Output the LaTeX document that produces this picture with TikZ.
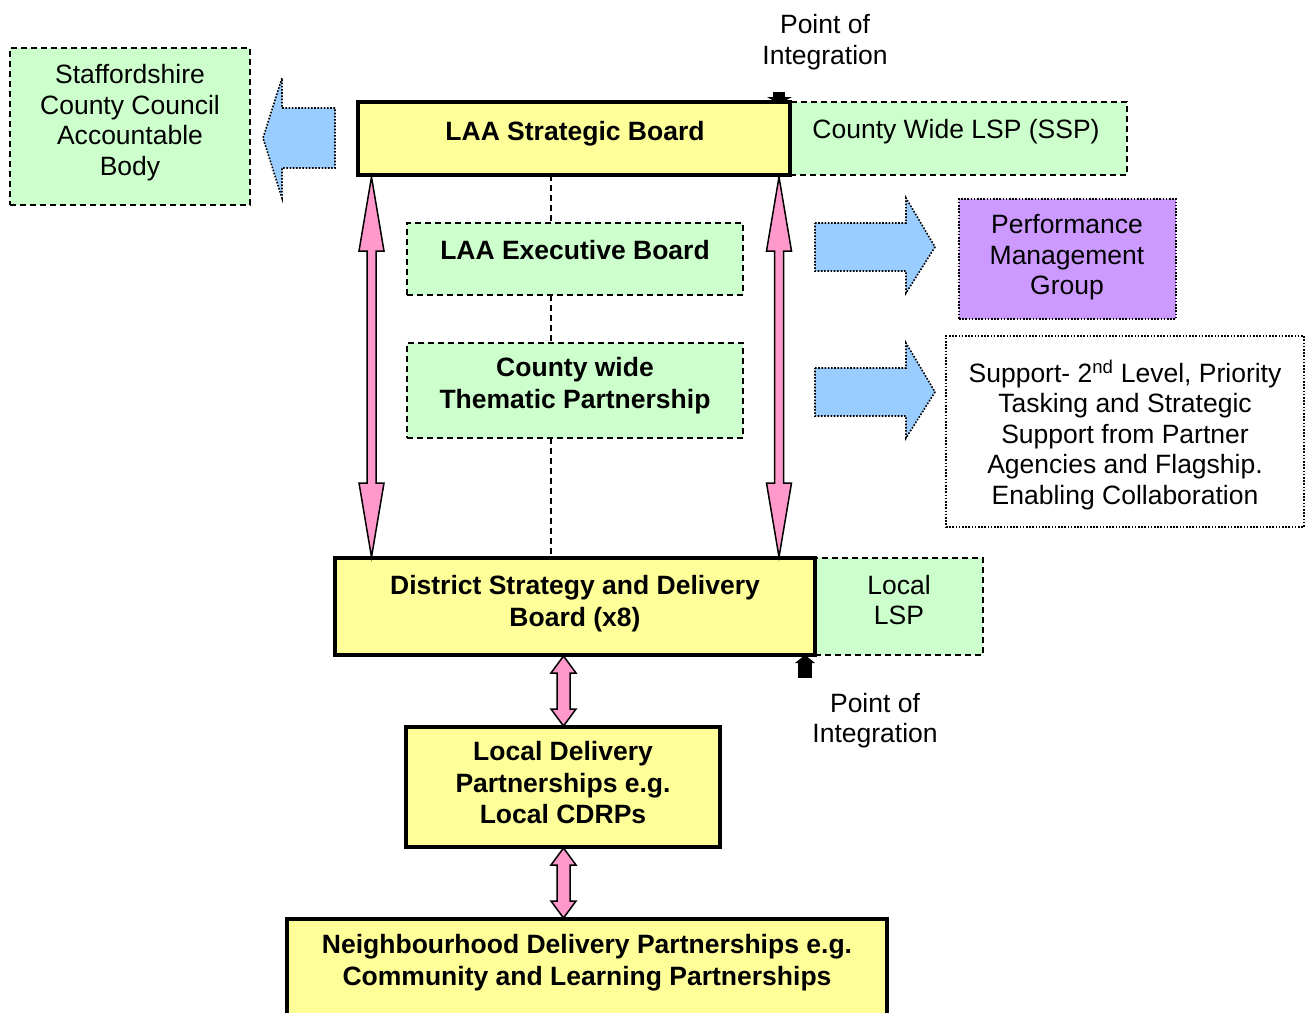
\documentclass[tikz,border=0pt]{standalone}
\usepackage{fontspec}
\setmainfont{Liberation Sans}
\usetikzlibrary{calc}
\definecolor{yel}{HTML}{FFFF99}
\definecolor{grn}{HTML}{CCFFCC}
\definecolor{blu}{HTML}{99CCFF}
\definecolor{pnk}{HTML}{FF99CC}
\definecolor{prp}{HTML}{CC99FF}
\tikzset{
  txt/.style={font=\fontsize{26.5}{30.5}\selectfont, align=center, inner sep=0pt,
    execute at begin node=\strut, execute at end node=\strut},
  btxt/.style={txt, font=\fontsize{26.5}{31.5}\selectfont\bfseries},
  boxbase/.style={rectangle, inner sep=0pt, outer sep=0pt, anchor=north west},
  yelbox/.style={boxbase, draw, line width=3.5pt, fill=yel},
  grnbox/.style={boxbase, draw, line width=1.8pt, dash pattern=on 6pt off 4pt, fill=grn},
  dotbox/.style={boxbase, draw, line width=1.6pt, dash pattern=on 1.6pt off 1.6pt},
  bluearr/.style={fill=blu, draw, line width=1.6pt, dash pattern=on 1.6pt off 1.6pt},
  pinkarr/.style={fill=pnk, draw, line width=1.5pt, line join=miter},
  vline/.style={line width=1.6pt, dash pattern=on 6pt off 4pt},
}
% box node: name, x1, y1, x2, y2, style
\newcommand{\mybox}[6]{\node[#6, minimum width=#4-#2, minimum height=#5-#3] (#1) at (#2,#3) {};}
% vertical double arrow between coordinates #1 (top tip) and #2 (bottom tip)
% #3 shaft half width, #4 head half width, #5 head length
\newcommand{\dblarrow}[5]{%
  \draw[pinkarr] let \p1=#1, \p2=#2 in
    (\x1,\y1) -- (\x1+#4pt,\y1-#5pt) -- (\x1+#3pt,\y1-#5pt) -- (\x2+#3pt,\y2+#5pt)
    -- (\x2+#4pt,\y2+#5pt) -- (\x2,\y2) -- (\x2-#4pt,\y2+#5pt) -- (\x2-#3pt,\y2+#5pt)
    -- (\x1-#3pt,\y1-#5pt) -- (\x1-#4pt,\y1-#5pt) -- cycle;}
\begin{document}
\begin{tikzpicture}[x=1pt,y=-1pt]
\useasboundingbox (0,0) rectangle (1305,1012);
\clip (0,0) rectangle (1305,1012);

% boxes
\mybox{staff}{10}{48}{250}{205}{grnbox}
\mybox{cw}{790}{102}{1127}{175}{grnbox}
\mybox{sb}{358}{102}{790}{175}{yelbox}
\mybox{exec}{407}{223}{743}{295}{grnbox}
\mybox{them}{407}{343}{743}{438}{grnbox}
\mybox{pmg}{959}{199}{1176}{319}{dotbox, fill=prp}
\mybox{sup}{946}{336}{1304}{527}{dotbox, fill=white}
\mybox{llsp}{815}{558}{983}{655}{grnbox}
\mybox{dist}{335}{558}{815}{655}{yelbox}
\mybox{ldp}{406}{727}{720}{847}{yelbox}
\mybox{ndp}{287}{919}{887}{1040}{yelbox}

% dashed vertical connectors
\coordinate (vx) at (551,0);
\draw[vline] (sb.south -| vx) -- (exec.north -| vx);
\draw[vline] (exec.south -| vx) -- (them.north -| vx);
\draw[vline] (them.south -| vx) -- (dist.north -| vx);

% texts
\node[txt] (tstaff) at (130,124.6) {Staffordshire\\County Council\\Accountable\\Body};
\node[btxt] (tsb) at (575,134.4) {LAA Strategic Board};
\node[txt] (tcw) at (956,132.4) {County Wide LSP (SSP)};
\node[txt] (tpoi1) at (825,43.9) {Point of\\Integration};
\node[btxt] (texec) at (575,253.4) {LAA Executive Board};
\node[btxt] (tthem) at (575,387.4) {County wide\\Thematic Partnership};
\node[txt] (tpmg) at (1067,259) {Performance\\Management\\Group};
\node[txt] (tsup) at (1125,436.4) {Support- 2\textsuperscript{nd} Level, Priority\\Tasking and Strategic\\Support from Partner\\Agencies and Flagship.\\Enabling Collaboration};
\node[btxt] (tdist) at (575,605.4) {District Strategy and Delivery\\Board (x8)};
\node[txt] (tllsp) at (899,604.4) {Local\\LSP};
\node[txt] (tpoi2) at (875,722.4) {Point of\\Integration};
\node[btxt] (tldp) at (563,787.4) {Local Delivery\\Partnerships e.g.\\Local CDRPs};
\node[btxt] (tndp) at (587,964.4) {Neighbourhood Delivery Partnerships e.g.\\Community and Learning Partnerships};

% blue block arrows
\draw[bluearr] (335,108) -- (282,108) -- (282,78) -- (263,138) -- (282,198) -- (282,168) -- (335,168) -- cycle;
\draw[bluearr] (815,223) -- (906,223) -- (906,198) -- (935,247) -- (906,293) -- (906,271) -- (815,271) -- cycle;
\draw[bluearr] (815,368) -- (906,368) -- (906,343) -- (935,392) -- (906,438) -- (906,416) -- (815,416) -- cycle;

% pink double arrows
\coordinate (lx) at (371.5,0);
\coordinate (rx) at (779,0);
\coordinate (mx) at (563.5,0);
\dblarrow{($(sb.south -| lx)+(0,2)$)}{($(dist.north -| lx)+(0,-1)$)}{4.5}{12.5}{74}
\dblarrow{($(sb.south -| rx)+(0,2)$)}{($(dist.north -| rx)+(0,-1)$)}{4.5}{12.5}{74}
\dblarrow{($(dist.south -| mx)+(0,1)$)}{($(ldp.north -| mx)+(0,-1)$)}{6.5}{12.5}{17}
\dblarrow{($(ldp.south -| mx)+(0,1)$)}{($(ndp.north -| mx)+(0,-1)$)}{6.5}{12.5}{17}

% small black integration arrows
\fill (773,92) rectangle (785,98);
\fill (767,97) -- (792,97) -- (779.5,104) -- cycle;
\fill (798,662) rectangle (812,678);
\fill (795,663) -- (815,663) -- (805,655) -- cycle;
\end{tikzpicture}
\end{document}
